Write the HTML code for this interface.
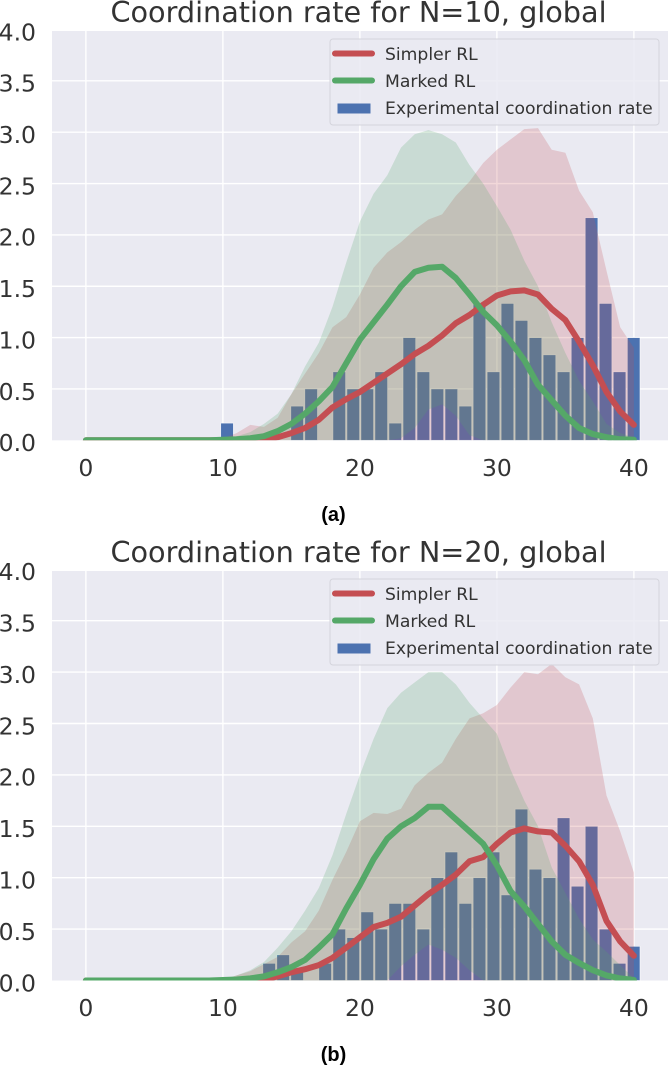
<!DOCTYPE html>
<html lang="en">
<head>
<meta charset="utf-8">
<title>Coordination rate charts</title>
<style>
html,body{margin:0;padding:0;background:#fff;width:668px;height:1067px;overflow:hidden}
svg{display:block;filter:blur(0.35px)}
text{font-family:"DejaVu Sans","Liberation Sans",sans-serif;fill:#333}
</style>
</head>
<body>
<svg id="figure" xmlns="http://www.w3.org/2000/svg" width="668" height="1067" viewBox="0 0 668 1067"></svg>
<script>
// ---------- Shared axis data ----------
const xTickValues = [0, 10, 20, 30, 40];
const yTickValues = [0, 0.5, 1, 1.5, 2, 2.5, 3, 3.5, 4];
const xGrid = [0,1,2,3,4,5,6,7,8,9,10,11,12,13,14,15,16,17,18,19,20,21,22,23,24,25,26,27,28,29,30,31,32,33,34,35,36,37,38,39,40];
const binIndexes = [0,1,2,3,4,5,6,7,8,9,10,11,12,13,14,15,16,17,18,19,20,21,22,23,24,25,26,27,28,29];
const legendLabels = ["Simpler RL", "Marked RL", "Experimental coordination rate"];

// ---------- Panel (a), N=10 ----------
const titleA = "Coordination rate for N=10, global";
const barsA = [0.167,0,0,0,0,0.333,0.5,0,0.667,0.5,0.5,0.667,0.167,1,0.667,0.5,0.5,0.333,1.333,0.667,1.333,1.167,1,0.833,0.667,1,2.167,1.333,0.667,1];
const simplerMeanA = [0,0,0,0,0,0,0,0,0,0,0,0,0,0.01,0.03,0.07,0.12,0.2,0.32,0.4,0.47,0.56,0.65,0.74,0.84,0.92,1.02,1.14,1.22,1.32,1.41,1.45,1.46,1.42,1.28,1.17,0.96,0.73,0.47,0.28,0.15];
const simplerUpperA = [0,0,0,0,0,0,0,0,0,0,0.02,0.07,0.15,0.13,0.22,0.45,0.65,0.85,1.1,1.2,1.42,1.68,1.83,1.93,2.05,2.15,2.2,2.38,2.52,2.7,2.83,2.93,3.03,3.04,2.83,2.8,2.43,2.22,1.65,1.1,0.9];
const markedMeanA = [0,0,0,0,0,0,0,0,0,0,0.005,0.01,0.02,0.04,0.09,0.16,0.26,0.38,0.52,0.75,0.98,1.15,1.32,1.5,1.64,1.68,1.69,1.58,1.42,1.25,1.12,0.96,0.78,0.54,0.39,0.24,0.12,0.06,0.03,0.01,0.005];
const markedUpperA = [0,0,0,0,0,0,0,0,0,0,0.01,0.04,0.08,0.16,0.26,0.45,0.72,0.95,1.3,1.73,2.13,2.4,2.58,2.85,2.98,3.02,2.98,2.9,2.68,2.5,2.28,2.05,1.75,1.5,1.15,0.85,0.58,0.38,0.16,0.07,0.03];
const markedLowerA = [0,0,0,0,0,0,0,0,0,0,0,0,0,0,0,0,0,0,0,0,0,0,0,0.02,0.12,0.3,0.35,0.24,0.05,0,0,0,0,0,0,0,0,0,0,0,0];

// ---------- Panel (b), N=20 ----------
const titleB = "Coordination rate for N=20, global";
const barsB = [0,0,0,0.167,0.25,0.083,0,0.167,0.5,0.417,0.667,0.5,0.75,0.75,0.5,1,1.25,0.75,1,1.25,0.833,1.667,1.083,1,1.583,0.917,1.5,0.5,0.167,0.333];
const simplerMeanB = [0,0,0,0,0,0,0,0,0,0,0,0,0,0.01,0.04,0.08,0.11,0.15,0.22,0.32,0.42,0.52,0.56,0.62,0.73,0.84,0.93,1.03,1.16,1.2,1.33,1.44,1.48,1.45,1.44,1.31,1.16,0.93,0.58,0.38,0.24];
const simplerUpperB = [0,0,0,0,0,0,0,0,0,0,0,0.05,0.09,0.16,0.23,0.37,0.48,0.68,0.98,1.25,1.55,1.63,1.62,1.67,1.9,2.02,2.12,2.35,2.55,2.6,2.68,2.85,3,2.98,3.08,2.95,2.88,2.55,1.8,1.45,1.05];
const markedMeanB = [0,0,0,0,0,0,0,0,0,0,0.005,0.01,0.02,0.04,0.08,0.13,0.2,0.32,0.45,0.7,0.93,1.18,1.38,1.5,1.58,1.69,1.69,1.57,1.45,1.33,1.12,0.87,0.72,0.55,0.38,0.25,0.17,0.1,0.05,0.02,0.005];
const markedUpperB = [0,0,0,0,0,0,0,0,0,0,0.01,0.05,0.1,0.18,0.32,0.48,0.68,0.9,1.22,1.62,2,2.35,2.65,2.8,2.9,3,3,2.88,2.7,2.55,2.4,2.05,1.75,1.5,1.1,0.85,0.6,0.4,0.28,0.15,0.02];
const markedLowerB = [0,0,0,0,0,0,0,0,0,0,0,0,0,0,0,0,0,0,0,0,0,0,0,0.14,0.25,0.35,0.3,0.22,0.1,0,0,0,0,0,0,0,0,0,0,0,0];

const SVG_NS = "http://www.w3.org/2000/svg";
const figure = document.getElementById("figure");
const X0 = 85.9, X_K = 13.7, BIN_START = 9.84, BIN_STEP = 1.0233, BAR_W = 0.93;
const AXIS_LEFT = 52, AXIS_RIGHT = 668;
const xScale = v => X0 + v * X_K;

function svgEl(parent, tag, props) {
  const el = document.createElementNS(SVG_NS, tag);
  for (const k in props) el.setAttribute(k, props[k]);
  parent.appendChild(el);
  return el;
}

function areaPath(xs, upper, lower, yScale) {
  let d = "";
  xs.forEach((x, i) => { d += (i ? "L" : "M") + xScale(x).toFixed(1) + " " + yScale(upper[i]).toFixed(1); });
  for (let i = xs.length - 1; i >= 0; i--) {
    const low = lower ? lower[i] : 0;
    d += "L" + xScale(xs[i]).toFixed(1) + " " + yScale(low).toFixed(1);
  }
  return d + "Z";
}

function linePath(xs, vals, yScale) {
  return xs.map((x, i) => (i ? "L" : "M") + xScale(x).toFixed(1) + " " + yScale(vals[i]).toFixed(1)).join("");
}

function drawPanel(cfg) {
  const yScale = v => cfg.y0 - v * cfg.yK;
  const panel = svgEl(figure, "g", {});
  
  

  const bg = svgEl(panel, "rect", {x: AXIS_LEFT, y: cfg.top, width: AXIS_RIGHT - AXIS_LEFT, height: cfg.y0 - cfg.top, fill: "#eaeaf2"});
  
  

  const clipId = cfg.name + "-clip";
  const clip = svgEl(panel, "clipPath", {id: clipId});
  svgEl(clip, "rect", {x: AXIS_LEFT, y: cfg.top, width: AXIS_RIGHT - AXIS_LEFT, height: cfg.y0 - cfg.top});

  // Grid
  yTickValues.forEach(v => {
    if (v === 4 || v === 0) return;
    const g = svgEl(panel, "line", {x1: AXIS_LEFT, x2: AXIS_RIGHT, y1: yScale(v), y2: yScale(v), stroke: "#fff", "stroke-width": 1.4});
    
    
  });
  xTickValues.forEach(v => {
    const g = svgEl(panel, "line", {x1: xScale(v), x2: xScale(v), y1: cfg.top, y2: cfg.y0, stroke: "#fff", "stroke-width": 1.4});
    
    
  });

  // Bars
  const content = svgEl(panel, "g", {"clip-path": "url(#" + clipId + ")"});
  binIndexes.forEach(i => {
    const v = cfg.bars[i];
    if (!v) return;
    const left = BIN_START + i * BIN_STEP;
    const bar = svgEl(content, "rect", {
      x: xScale(left).toFixed(1), y: yScale(v).toFixed(1),
      width: (BAR_W * X_K).toFixed(1), height: (v * cfg.yK).toFixed(1),
      fill: "#4c72b0", stroke: "#fff", "stroke-width": 0.7, "stroke-opacity": 0.8
    });
    
    
  });

  // Bands
  const redBand = svgEl(content, "path", {d: areaPath(xGrid, cfg.simplerUpper, null, yScale), fill: "#c44e52", "fill-opacity": 0.22});
  
  
  const greenBand = svgEl(content, "path", {d: areaPath(xGrid, cfg.markedUpper, cfg.markedLower, yScale), fill: "#55a868", "fill-opacity": 0.22});
  
  

  // Lines
  const redLine = svgEl(content, "path", {d: linePath(xGrid, cfg.simplerMean, yScale), fill: "none", stroke: "#c44e52", "stroke-width": 6, "stroke-linejoin": "round", "stroke-linecap": "round"});
  
  
  const greenLine = svgEl(content, "path", {d: linePath(xGrid, cfg.markedMean, yScale), fill: "none", stroke: "#55a868", "stroke-width": 6, "stroke-linejoin": "round", "stroke-linecap": "round"});
  
  

  // Tick labels
  yTickValues.forEach(v => {
    const t = svgEl(panel, "text", {x: 36, y: yScale(v) + 10.8, "text-anchor": "end", "font-size": 23.5});
    t.textContent = v.toFixed(1);
    
    
  });
  xTickValues.forEach(v => {
    const t = svgEl(panel, "text", {x: xScale(v), y: cfg.y0 + 35.5, "text-anchor": "middle", "font-size": 23.5});
    t.textContent = String(v);
    
    
  });

  // Title
  const title = svgEl(panel, "text", {x: 358.5, y: cfg.top - 9, "text-anchor": "middle", "font-size": 28.7});
  title.textContent = cfg.title;
  
  

  // Legend
  const ly = cfg.top;
  const legend = svgEl(panel, "g", {});
  
  
  svgEl(legend, "rect", {x: 330, y: ly + 8, width: 329, height: 86, rx: 3, fill: "#eaeaf2", "fill-opacity": 0.85, stroke: "#d4d4dc", "stroke-width": 1});
  const redKey = svgEl(legend, "line", {x1: 335, x2: 372, y1: ly + 22.5, y2: ly + 22.5, stroke: "#c44e52", "stroke-width": 6, "stroke-linecap": "round"});
  
  
  const greenKey = svgEl(legend, "line", {x1: 335, x2: 372, y1: ly + 49.5, y2: ly + 49.5, stroke: "#55a868", "stroke-width": 6, "stroke-linecap": "round"});
  
  
  const blueKey = svgEl(legend, "rect", {x: 337.5, y: ly + 72.5, width: 33, height: 10, fill: "#4c72b0"});
  
  
  legendLabels.forEach((label, i) => {
    const t = svgEl(legend, "text", {x: 385, y: ly + 29 + i * 27, "font-size": 17.2});
    t.textContent = label;
    
    
  });

  // Caption
  const cap = svgEl(panel, "text", {x: 333.5, y: cfg.captionY, "text-anchor": "middle", "font-size": 20, "font-weight": "bold"});
  cap.setAttribute("style", 'font-family:"Liberation Sans",sans-serif;fill:#000');
  cap.textContent = cfg.caption;
  
  
}

drawPanel({name: "panel-a", title: titleA, caption: "(a)", captionY: 521, top: 31, y0: 440.3, yK: 102.7,
  bars: barsA, simplerMean: simplerMeanA, simplerUpper: simplerUpperA, markedMean: markedMeanA, markedUpper: markedUpperA, markedLower: markedLowerA});
drawPanel({name: "panel-b", title: titleB, caption: "(b)", captionY: 1061, top: 571, y0: 980.5, yK: 102.8,
  bars: barsB, simplerMean: simplerMeanB, simplerUpper: simplerUpperB, markedMean: markedMeanB, markedUpper: markedUpperB, markedLower: markedLowerB});
</script>
</body>
</html>
